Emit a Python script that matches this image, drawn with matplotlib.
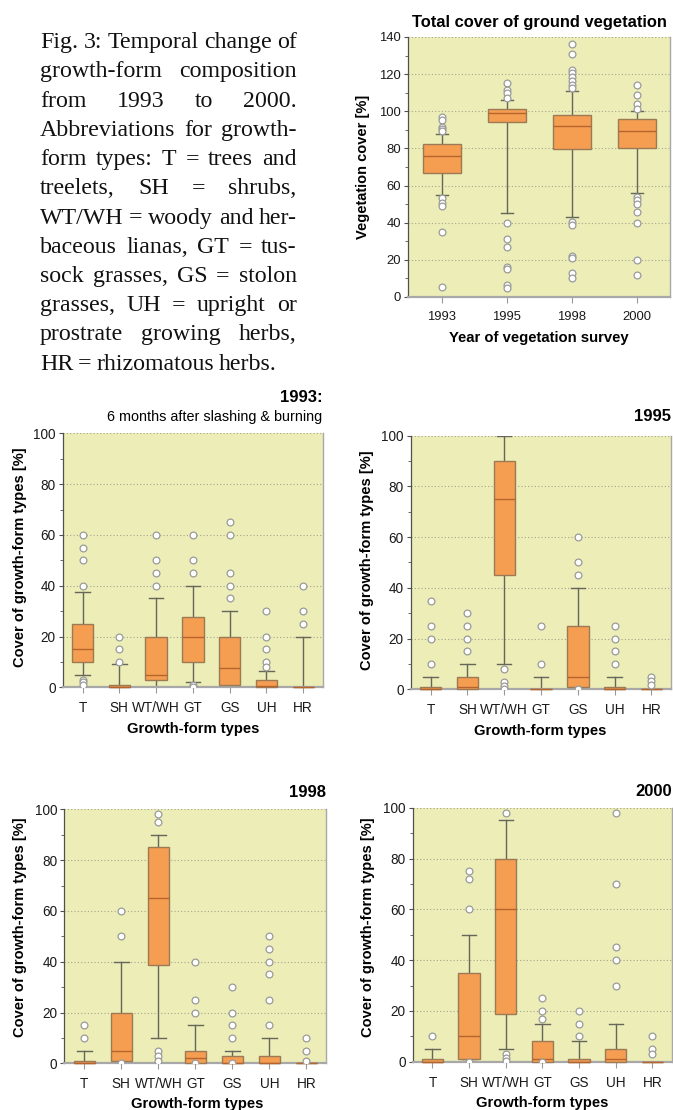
import matplotlib
matplotlib.use('Agg')
import matplotlib.pyplot as plt
from matplotlib.ticker import MultipleLocator

W, H = 673, 1110

# ---------------- data: total cover ----------------
years = ['1993', '1995', '1998', '2000']
tot_q1 = [67, 94, 79.5, 80]
tot_med = [76, 99, 92, 89.3]
tot_q3 = [82.2, 101, 98, 95.7]
tot_wlo = [55, 45, 43, 56]
tot_whi = [88, 106, 111, 100]
tot_fliers = [
    [97, 95.5, 91.5, 90.5, 89.3, 53.3, 50.7, 49.1, 35, 5.4],
    [115, 111.4, 110, 107, 40, 31, 27, 16.2, 15, 6.3, 5],
    [136, 131, 122.4, 120.6, 118.4, 116.4, 114.3, 112.3, 40.3, 38.7, 22, 21, 13, 10],
    [114, 109, 104, 101.3, 53.8, 52.2, 50, 46, 40, 20, 12],
]

# ---------------- data: growth-form types ----------------
types = ['T', 'SH', 'WT/WH', 'GT', 'GS', 'UH', 'HR']

q1_1993 = [10, 0, 3, 10, 1, 0, 0]
med_1993 = [15, 0, 5, 20, 7.5, 0.4, 0]
q3_1993 = [25, 1, 20, 27.5, 20, 3, 0]
wlo_1993 = [5, 0, 0, 2, 0, 0, 0]
whi_1993 = [37.5, 9, 35, 40, 30, 6.3, 20]
fl_1993 = [[60, 55, 50, 40, 3, 2, 1], [20, 15, 10], [60, 50, 45, 40],
           [60, 50, 45, 1, 0], [65, 60, 45, 40, 35], [30, 20, 15, 10, 8],
           [40, 30, 25]]

q1_1995 = [0, 0, 45, 0, 1, 0, 0]
med_1995 = [0, 1, 75, 0, 5, 0, 0]
q3_1995 = [1, 5, 90, 0, 25, 1, 0]
wlo_1995 = [0, 0, 10, 0, 1, 0, 0]
whi_1995 = [5, 10, 100, 5, 40, 5, 0]
fl_1995 = [[35, 25, 20, 10], [30, 25, 20, 15], [8, 3, 1.3, 0.3], [25, 10],
           [60, 50, 45, 0], [25, 20, 15, 10], [5, 3.3, 1.6]]

q1_1998 = [0, 1, 38.6, 0, 0, 0, 0]
med_1998 = [0, 5, 65, 2, 0, 0, 0]
q3_1998 = [1, 20, 85, 5, 3, 3, 0]
wlo_1998 = [0, 1, 10, 0, 0, 0, 0]
whi_1998 = [5, 40, 90, 15, 5, 10, 0]
fl_1998 = [[15, 10], [60, 50, 0], [98, 95, 5, 3, 1], [40, 25, 20, 0],
           [30, 20, 15, 10, 0], [50, 45, 40, 35, 25, 15], [10, 5, 1]]

q1_2000 = [0, 1, 18.6, 0, 0, 0, 0]
med_2000 = [0, 10, 60, 1, 0, 1, 0]
q3_2000 = [1, 35, 80, 8, 1, 5, 0]
wlo_2000 = [0, 1, 5, 0, 0, 0, 0]
whi_2000 = [5, 50, 95, 15, 8, 15, 0]
fl_2000 = [[10], [75, 72, 60, 0], [98, 3, 1.4, 0.4], [25, 20, 17, 0],
           [20, 15, 10], [98, 70, 45, 40, 30], [10, 5, 3]]

caption_lines = [
    "Fig. 3: Temporal change of",
    "growth-form composition",
    "from 1993 to 2000.",
    "Abbreviations for growth-",
    "form types: T = trees and",
    "treelets, SH = shrubs,",
    "WT/WH = woody and her-",
    "baceous lianas, GT = tus-",
    "sock grasses, GS = stolon",
    "grasses, UH = upright or",
    "prostrate growing herbs,",
    "HR = rhizomatous herbs.",
]

# ---------------- style ----------------
BG = '#ECEDB7'
FACE = '#F59E52'
EDGE = '#9C7A55'
MED = '#B5642E'
WHISK = '#66665A'
FLEDGE = '#9A9A9A'
GRID = '#A5A58E'
SANS = ['Liberation Sans', 'DejaVu Sans']
SERIF = ['Liberation Serif', 'DejaVu Serif']

plt.rcParams['font.family'] = SANS

fig = plt.figure(figsize=(W / 100, H / 100), dpi=100)


def fx(x):
    return x / W


def fy(y):
    return 1 - y / H


def add_ax(left, top, right, bottom):
    return fig.add_axes([fx(left), fy(bottom), (right - left) / W, (bottom - top) / H])


def make_stats(labels, q1, med, q3, wlo, whi, fl):
    return [dict(label=l, q1=a, med=b, q3=c, whislo=d, whishi=e, fliers=f)
            for l, a, b, c, d, e, f in zip(labels, q1, med, q3, wlo, whi, fl)]


def style_ax(ax, ymax, major, minor, fs):
    ax.set_facecolor(BG)
    ax.set_ylim(0, ymax)
    ax.yaxis.set_major_locator(MultipleLocator(major))
    ax.yaxis.set_minor_locator(MultipleLocator(minor))
    ax.grid(axis='y', which='major', linestyle=(0, (1, 2)), color=GRID, linewidth=0.8)
    ax.set_axisbelow(True)
    ax.spines['top'].set_visible(False)
    ax.spines['left'].set_color('#505050')
    ax.spines['left'].set_linewidth(0.9)
    ax.spines['bottom'].set_color('#A8A8A8')
    ax.spines['bottom'].set_linewidth(1.6)
    ax.spines['right'].set_color('#A8A8A8')
    ax.spines['right'].set_linewidth(1.0)
    ax.tick_params(axis='y', which='major', length=3, width=0.8, color='#505050',
                   pad=2, labelsize=fs, labelcolor='#1a1a1a')
    ax.tick_params(axis='y', which='minor', length=2, width=0.6, color='#505050')
    ax.tick_params(axis='x', length=4, width=0.8, color='#999999', pad=5,
                   labelsize=fs, labelcolor='#1a1a1a')


def draw_box(ax, stats, width, capw):
    res = ax.bxp(stats, widths=width, capwidths=capw, patch_artist=True,
                 boxprops=dict(facecolor=FACE, edgecolor=EDGE, linewidth=1.0),
                 medianprops=dict(color=MED, linewidth=1.0),
                 whiskerprops=dict(color=WHISK, linewidth=1.0),
                 capprops=dict(color=WHISK, linewidth=1.0),
                 flierprops=dict(marker='o', markersize=4.9, markerfacecolor='white',
                                 markeredgecolor=FLEDGE, markeredgewidth=0.9))
    for art in res['boxes'] + res['medians']:
        art.set_clip_on(False)
        art.set_zorder(3)
    for art in res['fliers']:
        art.set_zorder(4)


# ---------------- top chart ----------------
ax0 = add_ax(408, 37, 670, 297)
style_ax(ax0, 140, 20, 10, 9.4)
draw_box(ax0, make_stats(years, tot_q1, tot_med, tot_q3, tot_wlo, tot_whi, tot_fliers),
         0.59, 0.19)
ax0.set_xlim(0.48, 4.51)
ax0.tick_params(axis='x', pad=6)
fig.text(fx(539), fy(22), 'Total cover of ground vegetation', ha='center', va='center',
         fontsize=11.9, fontweight='bold')
fig.text(fx(363), fy(167), 'Vegetation cover [%]', ha='center', va='center',
         rotation=90, fontsize=10.5, fontweight='bold')
fig.text(fx(539), fy(338), 'Year of vegetation survey', ha='center', va='center',
         fontsize=10.7, fontweight='bold')

# ---------------- growth-form panels ----------------
panels = [
    (make_stats(types, q1_1993, med_1993, q3_1993, wlo_1993, whi_1993, fl_1993),
     (62.7, 433.3, 322.7, 687.3), '1993:', 397, 20, 556.7, 193, 729),
    (make_stats(types, q1_1995, med_1995, q3_1995, wlo_1995, whi_1995, fl_1995),
     (410.7, 435.7, 671, 689.3), '1995', 416.7, 366.7, 560, 540, 731),
    (make_stats(types, q1_1998, med_1998, q3_1998, wlo_1998, whi_1998, fl_1998),
     (64.3, 809.3, 326, 1063.3), '1998', 792.7, 20, 926.7, 197, 1104),
    (make_stats(types, q1_2000, med_2000, q3_2000, wlo_2000, whi_2000, fl_2000),
     (412.7, 807.7, 671.7, 1061.7), '2000', 791.7, 368, 926.7, 542, 1103),
]

for stats, (l, t, r, b), ttl, ty, ylx, yly, xlx, xly in panels:
    ax = add_ax(l, t, r, b)
    style_ax(ax, 100, 20, 10, 9.8)
    draw_box(ax, stats, 0.58, 0.39)
    ax.set_xlim(0.46, 7.53)
    ax.tick_params(axis='x', pad=6)
    fig.text(fx(r), fy(ty), ttl, ha='right', va='center', fontsize=12,
             fontweight='bold')
    fig.text(fx(ylx), fy(yly), 'Cover of growth-form types [%]', ha='center',
             va='center', rotation=90, fontsize=10.5, fontweight='bold')
    fig.text(fx(xlx), fy(xly), 'Growth-form types', ha='center', va='center',
             fontsize=10.6, fontweight='bold')

fig.text(fx(322), fy(416.7), '6 months after slashing & burning', ha='right',
         va='center', fontsize=10.4)

# ---------------- justified caption ----------------
renderer = fig.canvas.get_renderer()
x_left, x_right = 40, 296.7
base0, dy = 48.3, 29.2
for i, line in enumerate(caption_lines):
    words = line.split(' ')
    y = base0 + i * dy
    txts = [fig.text(0, fy(y), w, ha='left', va='baseline', fontsize=17.2,
                     family=SERIF, color='#111111') for w in words]
    widths = [tt.get_window_extent(renderer).width for tt in txts]
    if i == len(caption_lines) - 1 or len(words) == 1:
        gap = 4.8
    else:
        gap = (x_right - x_left - sum(widths)) / (len(words) - 1)
    x = x_left
    for tt, wd in zip(txts, widths):
        tt.set_x(fx(x))
        x += wd + gap

fig.savefig('out.png', dpi=100)
